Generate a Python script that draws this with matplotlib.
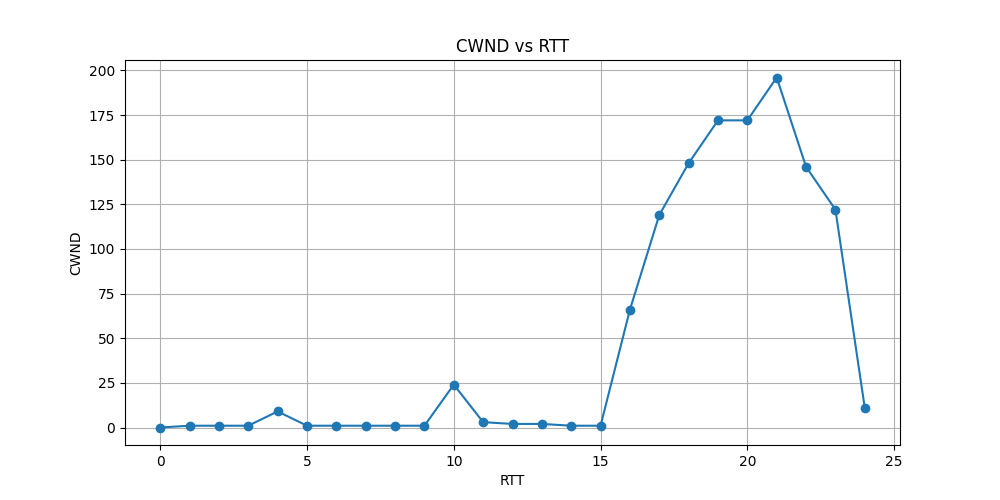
import matplotlib
matplotlib.use("Agg")
import matplotlib.pyplot as plt

rtt = list(range(25))
cwnd = [0, 1, 1, 1, 9, 1, 1, 1, 1, 1, 24, 3, 2, 2, 1, 1, 66, 119, 148, 172, 172, 196, 146, 122, 11]

fig, ax = plt.subplots(figsize=(10, 5), dpi=100)
ax.plot(rtt, cwnd, marker='o')
ax.set_title("CWND vs RTT")
ax.set_xlabel("RTT")
ax.set_ylabel("CWND")
ax.grid(True)
fig.savefig("out.png")
